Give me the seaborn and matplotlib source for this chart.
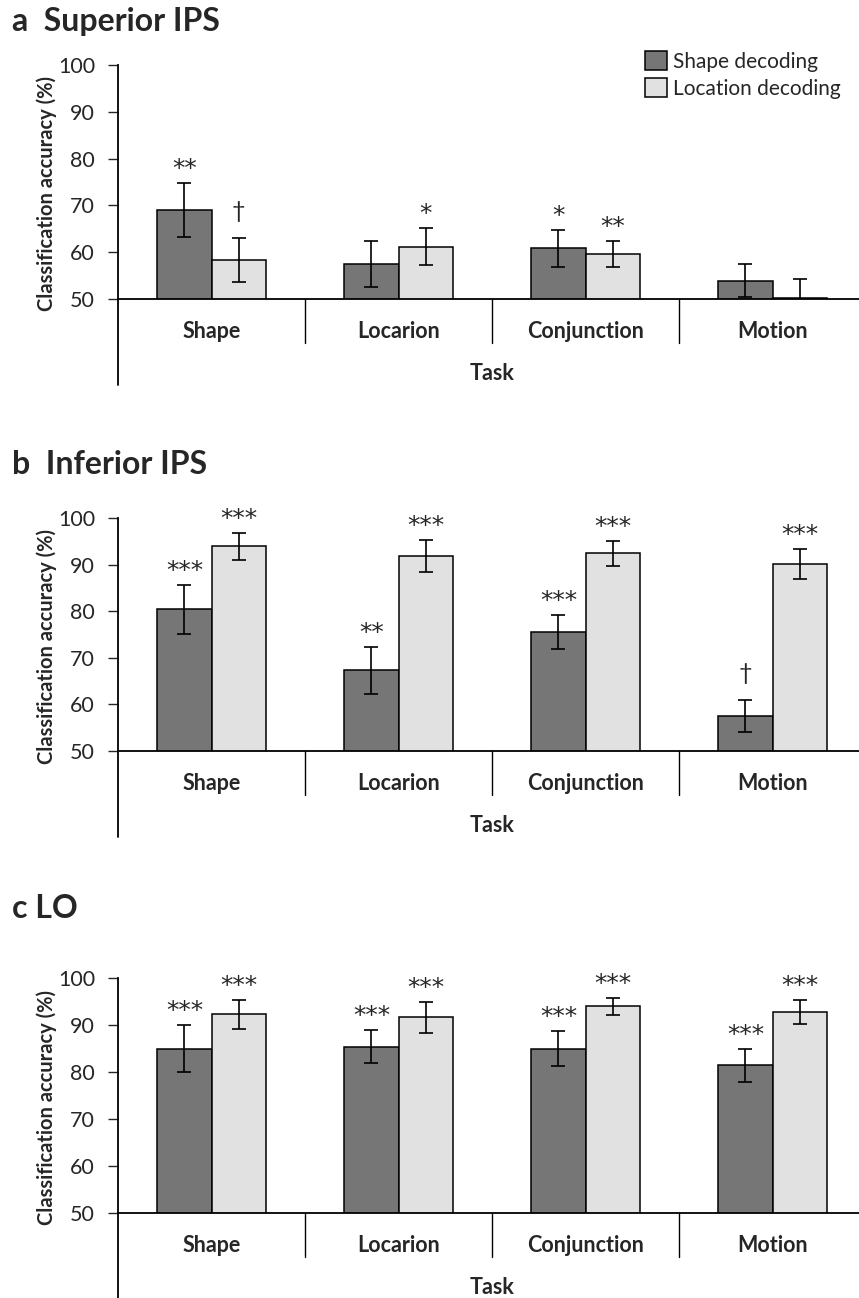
import matplotlib
matplotlib.use("Agg")
import matplotlib.pyplot as plt
import matplotlib.transforms as mtransforms
import seaborn as sns
import pandas as pd

tasks = ["Shape", "Locarion", "Conjunction", "Motion"]
decoders = ["Shape decoding", "Location decoding"]

# superior IPS
sup_shape = [69.0, 57.5, 60.8, 53.9]
sup_shape_err = [5.8, 4.9, 3.9, 3.5]
sup_loc = [58.4, 61.2, 59.6, 50.2]
sup_loc_err = [4.7, 4.0, 2.8, 4.1]
sup_shape_sig = ["**", "", "*", ""]
sup_loc_sig = ["\u2020", "*", "**", ""]

# inferior IPS
inf_shape = [80.4, 67.3, 75.5, 57.5]
inf_shape_err = [5.3, 5.1, 3.7, 3.5]
inf_loc = [93.9, 91.9, 92.4, 90.2]
inf_loc_err = [2.9, 3.4, 2.7, 3.2]
inf_shape_sig = ["***", "**", "***", "\u2020"]
inf_loc_sig = ["***", "***", "***", "***"]

# LO
lo_shape = [85.0, 85.4, 85.0, 81.4]
lo_shape_err = [5.1, 3.5, 3.7, 3.6]
lo_loc = [92.3, 91.6, 94.0, 92.8]
lo_loc_err = [3.1, 3.2, 1.8, 2.6]
lo_shape_sig = ["***", "***", "***", "***"]
lo_loc_sig = ["***", "***", "***", "***"]

titles = ["a  Superior IPS", "b  Inferior IPS", "c LO"]
bar_colors = ["#767676", "#e0e1e0"]

sns.set_style("white")
plt.rcParams["font.family"] = ["Lato", "DejaVu Sans"]

W, H = 859, 1298
fig = plt.figure(figsize=(W / 100, H / 100), dpi=100)

# pixel layout: (top of 100, bottom at 50, title y)
panels = [
    (65, 299, 22, sup_shape, sup_shape_err, sup_loc, sup_loc_err, sup_shape_sig, sup_loc_sig),
    (518, 751, 464, inf_shape, inf_shape_err, inf_loc, inf_loc_err, inf_shape_sig, inf_loc_sig),
    (978, 1213, 909, lo_shape, lo_shape_err, lo_loc, lo_loc_err, lo_shape_sig, lo_loc_sig),
]
x0, x1 = 118, 866

for i, (top, bot, ty, sh, she, lo, loe, shs, los) in enumerate(panels):
    ax = fig.add_axes([x0 / W, 1 - bot / H, (x1 - x0) / W, (bot - top) / H])
    df = pd.DataFrame({
        "task": tasks * 2,
        "decoding": [decoders[0]] * 4 + [decoders[1]] * 4,
        "acc": sh + lo,
    })
    sns.barplot(data=df, x="task", y="acc", hue="decoding", palette=bar_colors,
                edgecolor="black", linewidth=1.1, width=0.58, errorbar=None,
                legend=(i == 0), ax=ax, zorder=2)
    for cont, errs, sigs in zip(ax.containers, [she, loe], [shs, los]):
        for bar, e, s in zip(cont, errs, sigs):
            xc = bar.get_x() + bar.get_width() / 2
            h = bar.get_height()
            ax.errorbar(xc, h, yerr=e, color="black", elinewidth=1.2,
                        capsize=4.7, capthick=1.2, zorder=3)
            if s == "\u2020":
                ax.annotate(s, (xc, h + e), xytext=(0, 14), textcoords="offset points",
                            ha="center", va="baseline", fontsize=17,
                            family=["Lato", "DejaVu Sans"], annotation_clip=False)
            elif s:
                ax.annotate(s, (xc, h + e), xytext=(0, 5), textcoords="offset points",
                            ha="center", va="baseline", fontsize=18,
                            family=["DejaVu Sans"], annotation_clip=False)
    ax.set_ylim(50, 100)
    ax.set_xlim(-0.5, 3.5)
    ax.set_yticks([50, 60, 70, 80, 90, 100])
    ax.tick_params(axis="y", length=7, width=1.0, labelsize=15.5, pad=9.5, left=True)
    ax.tick_params(axis="x", length=0, labelsize=15.5, pad=16)
    for lab in ax.get_xticklabels():
        lab.set_fontweight("bold")
    ax.set_xlabel("")
    ax.set_ylabel("Classification accuracy (%)", fontsize=14.5, fontweight="bold")
    ax.yaxis.set_label_coords(-0.082, 0.45)
    for sp in ["top", "right"]:
        ax.spines[sp].set_visible(False)
    for sp in ["left", "bottom"]:
        ax.spines[sp].set_linewidth(1.3)
        ax.spines[sp].set_color("black")
    # category separators and extended spine (multi-level axis style)
    trans = mtransforms.blended_transform_factory(ax.transData, ax.transAxes)
    sep = 44 / (bot - top)
    for b in [0.5, 1.5, 2.5, 3.5]:
        ax.plot([b, b], [0, -sep], transform=trans, color="black", lw=1.0, clip_on=False)
    ax.plot([0, 0], [0, -86 / (bot - top)], transform=ax.transAxes, color="black",
            lw=1.3, clip_on=False)
    ax.text(0.5, -74 / (bot - top), "Task", transform=ax.transAxes, ha="center",
            va="center", fontsize=15.5, fontweight="bold")
    fig.text(12 / W, 1 - ty / H, titles[i], fontsize=23, fontweight="bold",
             ha="left", va="center")
    if i == 0:
        handles, labels = ax.get_legend_handles_labels()
        ax.legend(handles, labels, loc="upper left",
                  bbox_to_anchor=(645 / W, 1 - 51 / H), bbox_transform=fig.transFigure,
                  frameon=False, fontsize=15, handlelength=1.05, handleheight=1.05,
                  handletextpad=0.3, labelspacing=0.3, borderpad=0, borderaxespad=0)

fig.savefig("out.png", dpi=100)
